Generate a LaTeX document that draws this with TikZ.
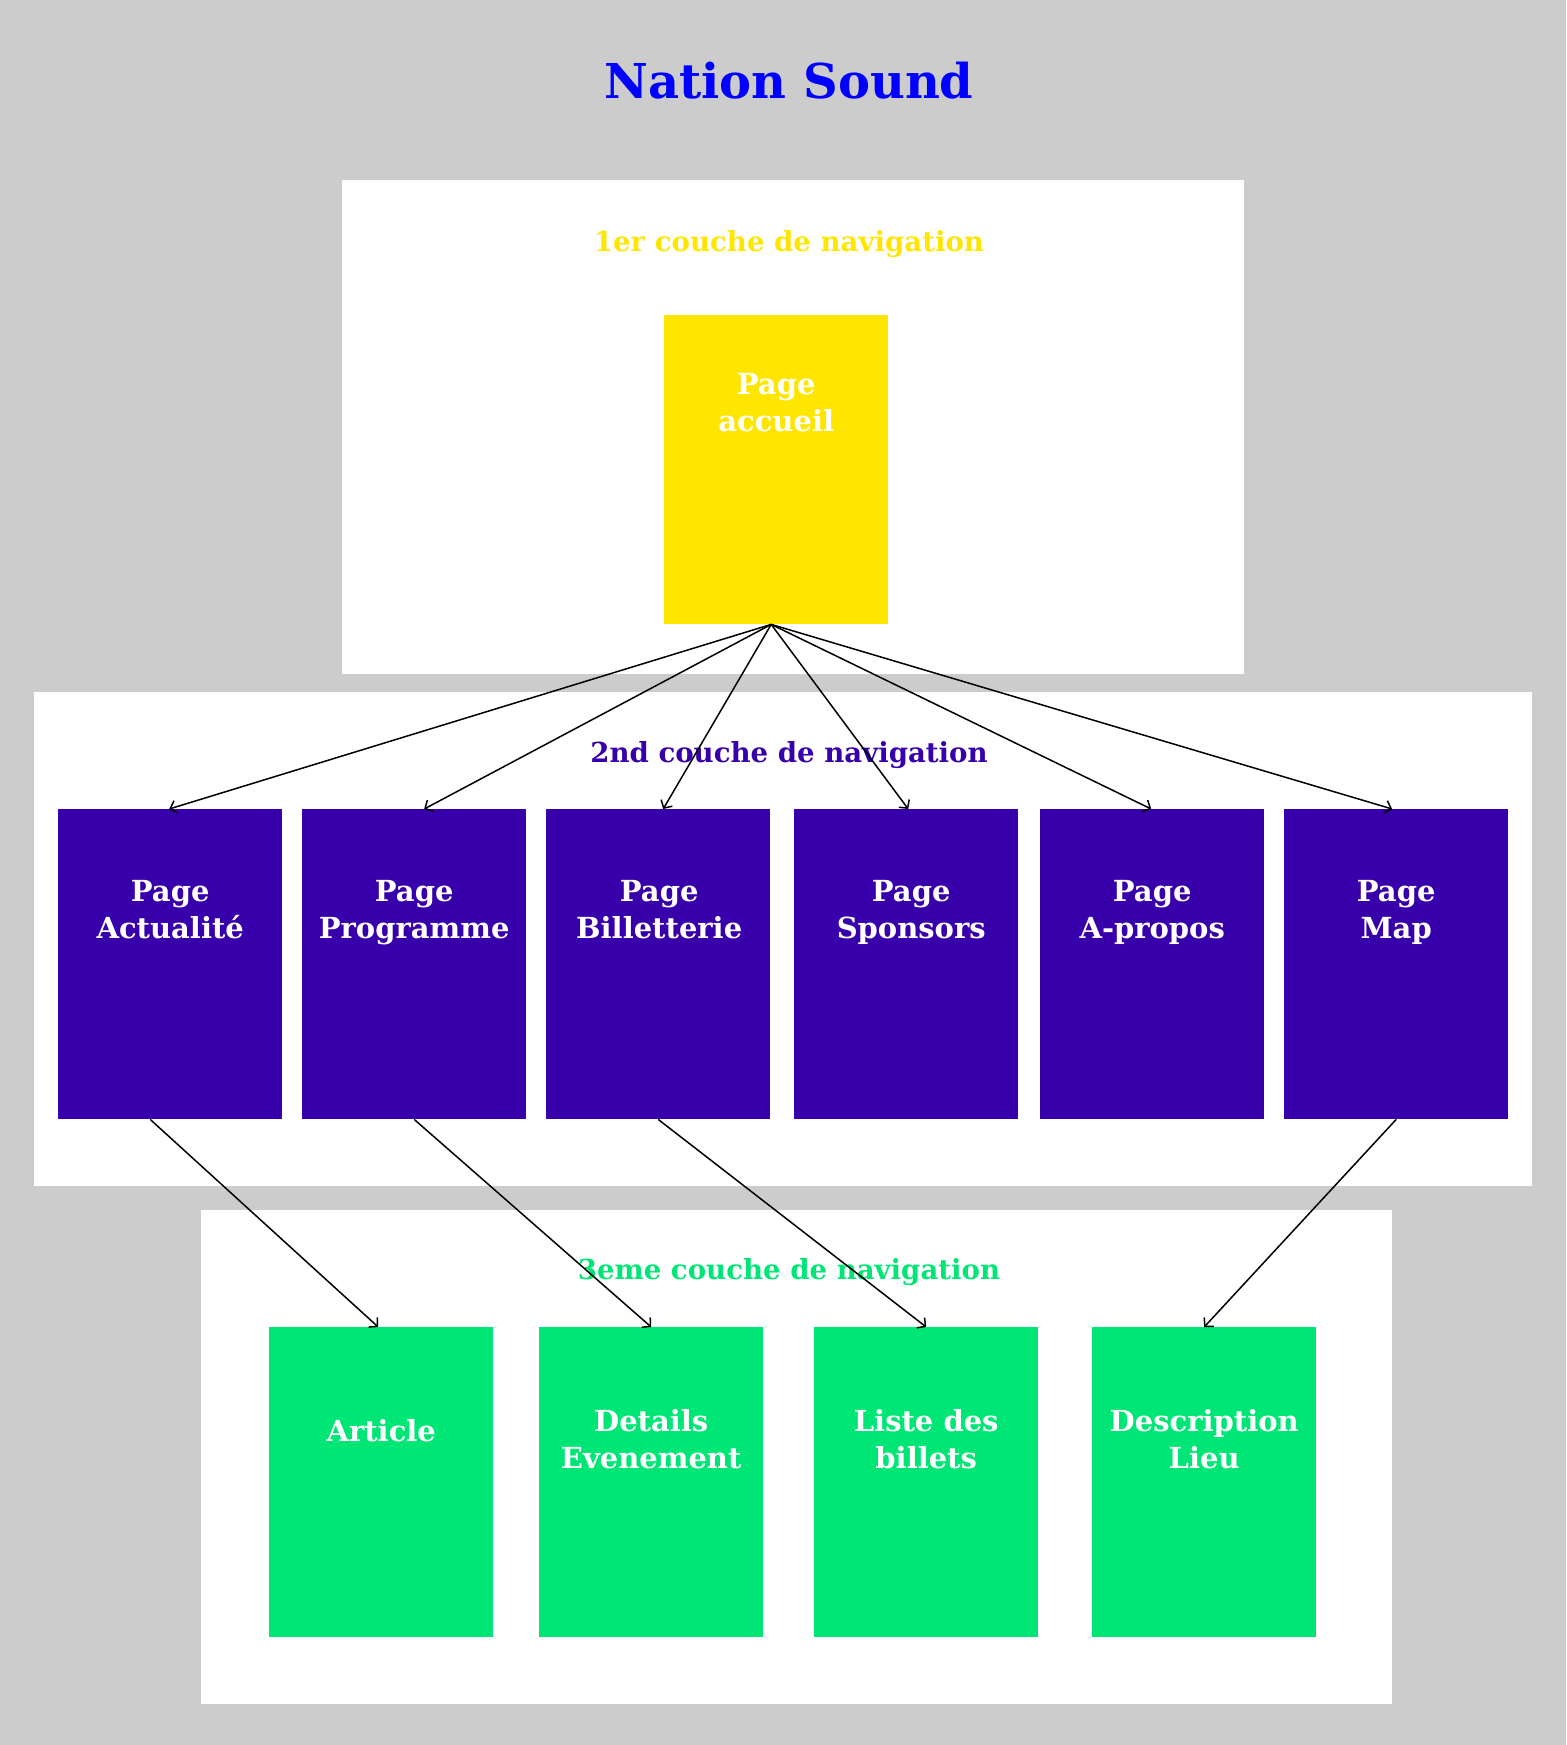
\documentclass[tikz,border=0pt]{standalone}
\usepackage{fontspec}
\setmainfont{DejaVu Serif}
\usetikzlibrary{arrows.meta,calc}
\definecolor{bggray}{HTML}{CCCCCC}
\definecolor{nsyellow}{HTML}{FFE600}
\definecolor{nspurple}{HTML}{3700AA}
\definecolor{nsgreen}{HTML}{00E676}
\definecolor{nsblue}{HTML}{0000FF}
\tikzset{
  layer/.style={fill=white, draw=none, anchor=north west, inner sep=0pt},
  pagebox/.style={draw=none, anchor=north west, inner sep=0pt, minimum width=224pt, minimum height=310pt},
  ybox/.style={pagebox, fill=nsyellow, minimum height=309pt},
  pbox/.style={pagebox, fill=nspurple},
  gbox/.style={pagebox, fill=nsgreen},
  boxtext/.style={text=white, align=center, anchor=north, inner sep=0pt, font=\bfseries\fontsize{29}{37}\selectfont},
  layertitle/.style={inner sep=0pt, font=\bfseries\fontsize{27.6}{34}\selectfont},
  link/.style={-{Straight Barb[length=6pt,width=13pt]}, line width=1.5pt, black}
}
\begin{document}
\begin{tikzpicture}[x=1pt,y=-1pt]
\fill[bggray] (0,0) rectangle (1566,1745);
\useasboundingbox (0,0) rectangle (1566,1745);

\node[font=\bfseries\fontsize{48}{58}\selectfont, text=nsblue, inner sep=0pt] (title) at (789,81) {Nation Sound};

% layers
\node[layer, minimum width=902pt, minimum height=494pt] (L1) at (342,180) {};
\node[layer, minimum width=1498pt, minimum height=494pt] (L2) at (34,692) {};
\node[layer, minimum width=1191pt, minimum height=494pt] (L3) at (201,1210) {};

\node[layertitle, text=nsyellow] (t1) at (789,244) {1er couche de navigation};
\node[layertitle, text=nspurple] (t2) at (789,755) {2nd couche de navigation};
\node[layertitle, text=nsgreen] (t3) at (789,1272) {3eme couche de navigation};

% level 1
\node[ybox] (home) at (664,315) {};
\node[boxtext] (homet) at ($(home.north)+(0,53)$) {\strut Page\\\strut accueil};

% level 2
\node[pbox] (act) at (58,809) {};
\node[pbox] (prog) at (302,809) {};
\node[pbox] (bill) at (546,809) {};
\node[pbox] (spon) at (794,809) {};
\node[pbox] (apro) at (1040,809) {};
\node[pbox] (map) at (1284,809) {};
\node[boxtext] at ($(act.north)+(0,66)$) {\strut Page\\\strut Actualité};
\node[boxtext] at ($(prog.north)+(0,66)$) {\strut Page\\\strut Programme};
\node[boxtext] at ($(bill.north)+(1,66)$) {\strut Page\\\strut Billetterie};
\node[boxtext] at ($(spon.north)+(5,66)$) {\strut Page\\\strut Sponsors};
\node[boxtext] at ($(apro.north)+(0,66)$) {\strut Page\\\strut A-propos};
\node[boxtext] at ($(map.north)+(0,66)$) {\strut Page\\\strut Map};

% level 3
\node[gbox] (art) at (269,1327) {};
\node[gbox] (det) at (539,1327) {};
\node[gbox] (lis) at (814,1327) {};
\node[gbox] (des) at (1092,1327) {};
\node[boxtext] at ($(art.north)+(0,88)$) {\strut Article};
\node[boxtext] at ($(det.north)+(0,78)$) {\strut Details\\\strut Evenement};
\node[boxtext] at ($(lis.north)+(0,78)$) {\strut Liste des\\\strut billets};
\node[boxtext] at ($(des.north)+(0,78)$) {\strut Description\\\strut Lieu};

% connectors
\coordinate (hub) at ($(home.south)+(-5,0)$);
\draw[link] (hub) -- ($(act.north)+(-1,0)$);
\draw[link] (hub) -- ($(prog.north)+(10,0)$);
\draw[link] (hub) -- ($(bill.north)+(5,0)$);
\draw[link] (hub) -- ($(spon.north)+(2,0)$);
\draw[link] (hub) -- ($(apro.north)+(-1,0)$);
\draw[link] (hub) -- ($(map.north)+(-4,0)$);

\draw[link] ($(act.south)+(-20,0)$) -- ($(art.north)+(-3,0)$);
\draw[link] (prog.south) -- (det.north);
\draw[link] (bill.south) -- (lis.north);
\draw[link] (map.south) -- (des.north);
\end{tikzpicture}
\end{document}
